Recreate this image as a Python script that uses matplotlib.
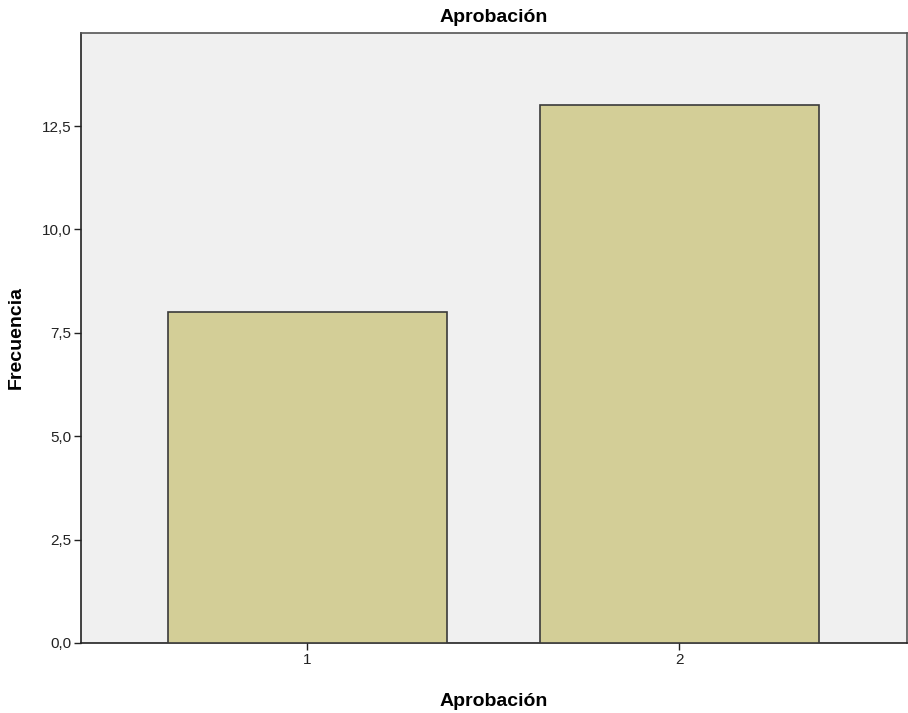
import matplotlib
matplotlib.use("Agg")
import matplotlib.pyplot as plt
from matplotlib.ticker import FuncFormatter

categories = ["1", "2"]
values = [8, 13]
yticks = [0, 2.5, 5.0, 7.5, 10.0, 12.5]

plt.rcParams['font.family'] = ['Liberation Sans', 'DejaVu Sans']

fig = plt.figure(figsize=(9.08, 7.13), dpi=100)
ax = fig.add_axes([81/908, 1-643/713, (907-81)/908, (643-33)/713])
ax.set_facecolor('#f0f0f0')
pos = [1, 2]
ax.bar(pos, values, width=0.75, color='#d3ce97', edgecolor='#3a3a3a', linewidth=1.2, zorder=3)
ax.set_xlim(0.391, 2.612)
ax.set_ylim(0, 14.75)
ax.set_xticks(pos)
ax.set_xticklabels(categories)
ax.set_yticks(yticks)
ax.yaxis.set_major_formatter(FuncFormatter(lambda v, p: f"{v:.1f}".replace('.', ',')))
ax.tick_params(axis='both', direction='out', length=5, width=1, labelsize=11, colors='#222222', pad=2)
for s in ['left', 'bottom']:
    ax.spines[s].set_color('#222222')
    ax.spines[s].set_linewidth(1.2)
for s in ['top', 'right']:
    ax.spines[s].set_color('#555555')
    ax.spines[s].set_linewidth(1.2)
ax.set_title("Aprobación", fontsize=14, fontweight='bold', pad=8)
ax.set_xlabel("Aprobación", fontsize=14, fontweight='bold', labelpad=19)
ax.set_ylabel("Frecuencia", fontsize=14, fontweight='bold', labelpad=12)
fig.savefig("out.png", dpi=100)
